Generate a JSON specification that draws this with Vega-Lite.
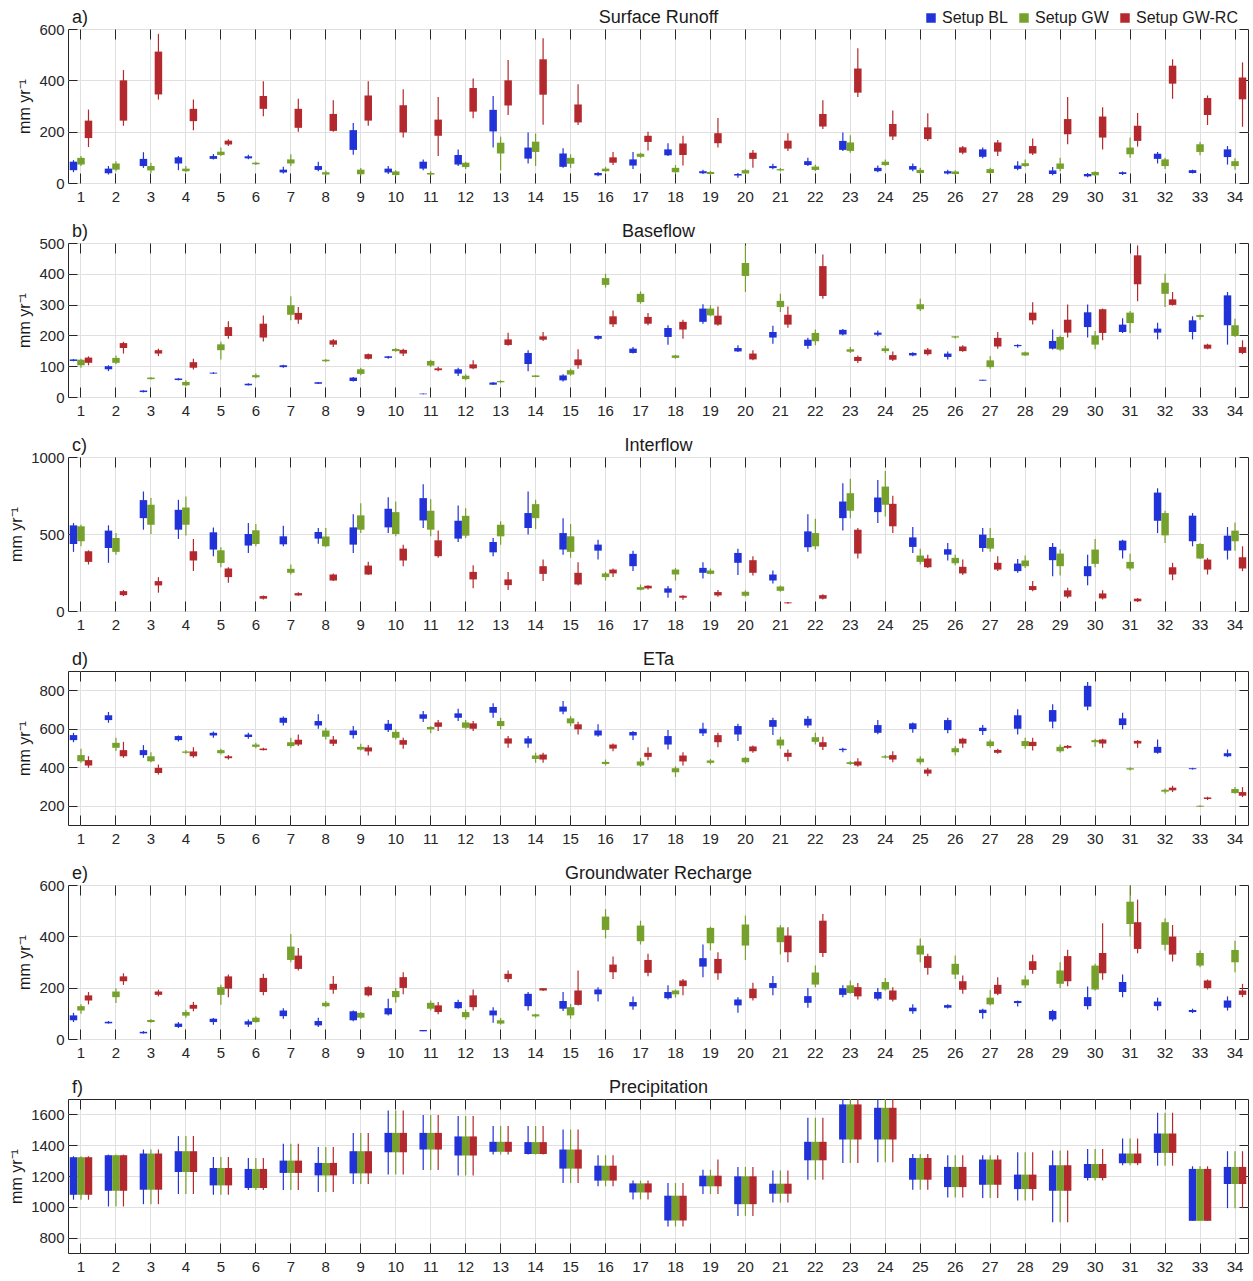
{
"$schema":"https://vega.github.io/schema/vega-lite/v6.json",
"padding":{"left":8,"top":8,"right":5,"bottom":3},
"bounds":"flush",
"spacing":60,
"config":{"font":"Liberation Sans","view":{"stroke":"#262626","strokeWidth":1},
"axis":{"labelColor":"#262626","tickColor":"#262626","gridColor":"#e0e0e0","domain":false,"labelFontSize":15,"titleColor":"#1a1a1a","titleFontWeight":"normal","titleFont":"Liberation Sans","labelFont":"Liberation Sans","format":"d"},
"title":{"fontWeight":"normal","fontSize":18,"color":"#1a1a1a"},
"legend":{"labelFont":"Liberation Sans"}},
"resolve":{"legend":{"color":"independent"}},
"data":{"values":[
{"p":"a","c":1,"s":"BL","lo":42,"q1":50,"q3":83,"hi":89},{"p":"a","c":1,"s":"GW","lo":66,"q1":72,"q3":98,"hi":105},{"p":"a","c":1,"s":"GW-RC","lo":140,"q1":175,"q3":243,"hi":286},
{"p":"a","c":2,"s":"BL","lo":33,"q1":38,"q3":56,"hi":66},{"p":"a","c":2,"s":"GW","lo":46,"q1":52,"q3":76,"hi":85},{"p":"a","c":2,"s":"GW-RC","lo":223,"q1":243,"q3":400,"hi":440},
{"p":"a","c":3,"s":"BL","lo":59,"q1":66,"q3":94,"hi":120},{"p":"a","c":3,"s":"GW","lo":39,"q1":49,"q3":66,"hi":79},{"p":"a","c":3,"s":"GW-RC","lo":325,"q1":345,"q3":512,"hi":581},
{"p":"a","c":4,"s":"BL","lo":50,"q1":76,"q3":100,"hi":105},{"p":"a","c":4,"s":"GW","lo":42,"q1":46,"q3":56,"hi":66},{"p":"a","c":4,"s":"GW-RC","lo":206,"q1":241,"q3":289,"hi":325},
{"p":"a","c":5,"s":"BL","lo":92,"q1":94,"q3":105,"hi":113},{"p":"a","c":5,"s":"GW","lo":105,"q1":109,"q3":122,"hi":138},{"p":"a","c":5,"s":"GW-RC","lo":144,"q1":150,"q3":165,"hi":170},
{"p":"a","c":6,"s":"BL","lo":93,"q1":96,"q3":104,"hi":110},{"p":"a","c":6,"s":"GW","lo":70,"q1":73,"q3":79,"hi":83},{"p":"a","c":6,"s":"GW-RC","lo":260,"q1":289,"q3":339,"hi":396},
{"p":"a","c":7,"s":"BL","lo":37,"q1":41,"q3":52,"hi":63},{"p":"a","c":7,"s":"GW","lo":66,"q1":76,"q3":92,"hi":112},{"p":"a","c":7,"s":"GW-RC","lo":200,"q1":215,"q3":289,"hi":328},
{"p":"a","c":8,"s":"BL","lo":46,"q1":51,"q3":66,"hi":83},{"p":"a","c":8,"s":"GW","lo":29,"q1":33,"q3":42,"hi":49},{"p":"a","c":8,"s":"GW-RC","lo":200,"q1":203,"q3":269,"hi":322},
{"p":"a","c":9,"s":"BL","lo":110,"q1":129,"q3":206,"hi":234},{"p":"a","c":9,"s":"GW","lo":29,"q1":34,"q3":52,"hi":58},{"p":"a","c":9,"s":"GW-RC","lo":223,"q1":243,"q3":341,"hi":396},
{"p":"a","c":10,"s":"BL","lo":35,"q1":41,"q3":56,"hi":66},{"p":"a","c":10,"s":"GW","lo":26,"q1":31,"q3":45,"hi":50},{"p":"a","c":10,"s":"GW-RC","lo":177,"q1":197,"q3":303,"hi":365},
{"p":"a","c":11,"s":"BL","lo":50,"q1":56,"q3":83,"hi":92},{"p":"a","c":11,"s":"GW","lo":29,"q1":33,"q3":39,"hi":46},{"p":"a","c":11,"s":"GW-RC","lo":105,"q1":184,"q3":247,"hi":335},
{"p":"a","c":12,"s":"BL","lo":66,"q1":72,"q3":109,"hi":131},{"p":"a","c":12,"s":"GW","lo":55,"q1":62,"q3":79,"hi":83},{"p":"a","c":12,"s":"GW-RC","lo":252,"q1":278,"q3":370,"hi":407},
{"p":"a","c":13,"s":"BL","lo":138,"q1":201,"q3":285,"hi":339},{"p":"a","c":13,"s":"GW","lo":50,"q1":115,"q3":157,"hi":180},{"p":"a","c":13,"s":"GW-RC","lo":265,"q1":302,"q3":400,"hi":479},
{"p":"a","c":14,"s":"BL","lo":76,"q1":95,"q3":138,"hi":197},{"p":"a","c":14,"s":"GW","lo":66,"q1":121,"q3":161,"hi":193},{"p":"a","c":14,"s":"GW-RC","lo":227,"q1":344,"q3":482,"hi":564},
{"p":"a","c":15,"s":"BL","lo":59,"q1":63,"q3":115,"hi":135},{"p":"a","c":15,"s":"GW","lo":59,"q1":75,"q3":98,"hi":112},{"p":"a","c":15,"s":"GW-RC","lo":226,"q1":236,"q3":306,"hi":385},
{"p":"a","c":16,"s":"BL","lo":26,"q1":30,"q3":39,"hi":43},{"p":"a","c":16,"s":"GW","lo":42,"q1":46,"q3":56,"hi":63},{"p":"a","c":16,"s":"GW-RC","lo":70,"q1":79,"q3":100,"hi":121},
{"p":"a","c":17,"s":"BL","lo":55,"q1":68,"q3":92,"hi":121},{"p":"a","c":17,"s":"GW","lo":98,"q1":102,"q3":114,"hi":118},{"p":"a","c":17,"s":"GW-RC","lo":127,"q1":160,"q3":184,"hi":200},
{"p":"a","c":18,"s":"BL","lo":105,"q1":108,"q3":131,"hi":155},{"p":"a","c":18,"s":"GW","lo":37,"q1":42,"q3":59,"hi":70},{"p":"a","c":18,"s":"GW-RC","lo":68,"q1":109,"q3":154,"hi":184},
{"p":"a","c":19,"s":"BL","lo":35,"q1":38,"q3":46,"hi":52},{"p":"a","c":19,"s":"GW","lo":30,"q1":35,"q3":43,"hi":47},{"p":"a","c":19,"s":"GW-RC","lo":138,"q1":155,"q3":194,"hi":253},
{"p":"a","c":20,"s":"BL","lo":20,"q1":29,"q3":35,"hi":39},{"p":"a","c":20,"s":"GW","lo":33,"q1":37,"q3":50,"hi":55},{"p":"a","c":20,"s":"GW-RC","lo":59,"q1":94,"q3":118,"hi":129},
{"p":"a","c":21,"s":"BL","lo":54,"q1":58,"q3":66,"hi":75},{"p":"a","c":21,"s":"GW","lo":46,"q1":49,"q3":54,"hi":58},{"p":"a","c":21,"s":"GW-RC","lo":125,"q1":134,"q3":165,"hi":194},
{"p":"a","c":22,"s":"BL","lo":66,"q1":70,"q3":85,"hi":98},{"p":"a","c":22,"s":"GW","lo":47,"q1":51,"q3":64,"hi":71},{"p":"a","c":22,"s":"GW-RC","lo":210,"q1":220,"q3":269,"hi":322},
{"p":"a","c":23,"s":"BL","lo":125,"q1":129,"q3":164,"hi":197},{"p":"a","c":23,"s":"GW","lo":118,"q1":125,"q3":158,"hi":186},{"p":"a","c":23,"s":"GW-RC","lo":335,"q1":352,"q3":446,"hi":525},
{"p":"a","c":24,"s":"BL","lo":42,"q1":46,"q3":59,"hi":68},{"p":"a","c":24,"s":"GW","lo":66,"q1":70,"q3":83,"hi":92},{"p":"a","c":24,"s":"GW-RC","lo":168,"q1":181,"q3":230,"hi":282},
{"p":"a","c":25,"s":"BL","lo":46,"q1":52,"q3":66,"hi":76},{"p":"a","c":25,"s":"GW","lo":33,"q1":39,"q3":51,"hi":59},{"p":"a","c":25,"s":"GW-RC","lo":164,"q1":171,"q3":217,"hi":272},
{"p":"a","c":26,"s":"BL","lo":33,"q1":37,"q3":46,"hi":52},{"p":"a","c":26,"s":"GW","lo":30,"q1":35,"q3":45,"hi":50},{"p":"a","c":26,"s":"GW-RC","lo":112,"q1":118,"q3":139,"hi":144},
{"p":"a","c":27,"s":"BL","lo":96,"q1":102,"q3":131,"hi":138},{"p":"a","c":27,"s":"GW","lo":35,"q1":39,"q3":54,"hi":59},{"p":"a","c":27,"s":"GW-RC","lo":105,"q1":122,"q3":158,"hi":168},
{"p":"a","c":28,"s":"BL","lo":50,"q1":55,"q3":68,"hi":85},{"p":"a","c":28,"s":"GW","lo":62,"q1":66,"q3":77,"hi":92},{"p":"a","c":28,"s":"GW-RC","lo":109,"q1":115,"q3":144,"hi":173},
{"p":"a","c":29,"s":"BL","lo":30,"q1":35,"q3":49,"hi":62},{"p":"a","c":29,"s":"GW","lo":46,"q1":55,"q3":76,"hi":98},{"p":"a","c":29,"s":"GW-RC","lo":151,"q1":190,"q3":249,"hi":335},
{"p":"a","c":30,"s":"BL","lo":22,"q1":26,"q3":35,"hi":39},{"p":"a","c":30,"s":"GW","lo":26,"q1":30,"q3":43,"hi":46},{"p":"a","c":30,"s":"GW-RC","lo":131,"q1":177,"q3":259,"hi":295},
{"p":"a","c":31,"s":"BL","lo":31,"q1":35,"q3":42,"hi":45},{"p":"a","c":31,"s":"GW","lo":98,"q1":112,"q3":138,"hi":177},{"p":"a","c":31,"s":"GW-RC","lo":142,"q1":164,"q3":223,"hi":273},
{"p":"a","c":32,"s":"BL","lo":76,"q1":94,"q3":114,"hi":121},{"p":"a","c":32,"s":"GW","lo":55,"q1":66,"q3":92,"hi":98},{"p":"a","c":32,"s":"GW-RC","lo":328,"q1":387,"q3":457,"hi":482},
{"p":"a","c":33,"s":"BL","lo":37,"q1":39,"q3":50,"hi":52},{"p":"a","c":33,"s":"GW","lo":108,"q1":121,"q3":151,"hi":160},{"p":"a","c":33,"s":"GW-RC","lo":226,"q1":265,"q3":331,"hi":341},
{"p":"a","c":34,"s":"BL","lo":72,"q1":101,"q3":131,"hi":144},{"p":"a","c":34,"s":"GW","lo":52,"q1":66,"q3":85,"hi":96},{"p":"a","c":34,"s":"GW-RC","lo":219,"q1":326,"q3":411,"hi":470},
{"p":"b","c":1,"s":"BL","lo":116,"q1":117,"q3":122,"hi":123},{"p":"b","c":1,"s":"GW","lo":95,"q1":103,"q3":121,"hi":124},{"p":"b","c":1,"s":"GW-RC","lo":103,"q1":111,"q3":128,"hi":132},
{"p":"b","c":2,"s":"BL","lo":84,"q1":90,"q3":100,"hi":103},{"p":"b","c":2,"s":"GW","lo":106,"q1":111,"q3":127,"hi":135},{"p":"b","c":2,"s":"GW-RC","lo":141,"q1":159,"q3":175,"hi":179},
{"p":"b","c":3,"s":"BL","lo":15,"q1":16,"q3":21,"hi":22},{"p":"b","c":3,"s":"GW","lo":57,"q1":58,"q3":63,"hi":65},{"p":"b","c":3,"s":"GW-RC","lo":133,"q1":141,"q3":152,"hi":157},
{"p":"b","c":4,"s":"BL","lo":54,"q1":55,"q3":60,"hi":61},{"p":"b","c":4,"s":"GW","lo":35,"q1":38,"q3":49,"hi":54},{"p":"b","c":4,"s":"GW-RC","lo":89,"q1":95,"q3":113,"hi":124},
{"p":"b","c":5,"s":"BL","lo":75,"q1":76,"q3":79,"hi":80},{"p":"b","c":5,"s":"GW","lo":122,"q1":152,"q3":171,"hi":179},{"p":"b","c":5,"s":"GW-RC","lo":189,"q1":198,"q3":227,"hi":246},
{"p":"b","c":6,"s":"BL","lo":37,"q1":38,"q3":43,"hi":45},{"p":"b","c":6,"s":"GW","lo":61,"q1":64,"q3":71,"hi":76},{"p":"b","c":6,"s":"GW-RC","lo":180,"q1":193,"q3":238,"hi":265},
{"p":"b","c":7,"s":"BL","lo":95,"q1":97,"q3":103,"hi":105},{"p":"b","c":7,"s":"GW","lo":249,"q1":267,"q3":298,"hi":327},{"p":"b","c":7,"s":"GW-RC","lo":238,"q1":251,"q3":273,"hi":292},
{"p":"b","c":8,"s":"BL","lo":42,"q1":43,"q3":48,"hi":49},{"p":"b","c":8,"s":"GW","lo":114,"q1":116,"q3":121,"hi":123},{"p":"b","c":8,"s":"GW-RC","lo":162,"q1":170,"q3":184,"hi":188},
{"p":"b","c":9,"s":"BL","lo":50,"q1":52,"q3":63,"hi":65},{"p":"b","c":9,"s":"GW","lo":71,"q1":75,"q3":90,"hi":95},{"p":"b","c":9,"s":"GW-RC","lo":122,"q1":124,"q3":139,"hi":141},
{"p":"b","c":10,"s":"BL","lo":124,"q1":127,"q3":132,"hi":133},{"p":"b","c":10,"s":"GW","lo":147,"q1":149,"q3":156,"hi":159},{"p":"b","c":10,"s":"GW-RC","lo":133,"q1":141,"q3":153,"hi":157},
{"p":"b","c":11,"s":"BL","lo":9,"q1":9,"q3":11,"hi":11},{"p":"b","c":11,"s":"GW","lo":97,"q1":102,"q3":117,"hi":121},{"p":"b","c":11,"s":"GW-RC","lo":84,"q1":87,"q3":93,"hi":98},
{"p":"b","c":12,"s":"BL","lo":68,"q1":76,"q3":90,"hi":95},{"p":"b","c":12,"s":"GW","lo":54,"q1":58,"q3":69,"hi":74},{"p":"b","c":12,"s":"GW-RC","lo":90,"q1":93,"q3":106,"hi":119},
{"p":"b","c":13,"s":"BL","lo":39,"q1":40,"q3":47,"hi":49},{"p":"b","c":13,"s":"GW","lo":45,"q1":48,"q3":52,"hi":54},{"p":"b","c":13,"s":"GW-RC","lo":166,"q1":169,"q3":187,"hi":209},
{"p":"b","c":14,"s":"BL","lo":84,"q1":107,"q3":143,"hi":152},{"p":"b","c":14,"s":"GW","lo":64,"q1":65,"q3":70,"hi":71},{"p":"b","c":14,"s":"GW-RC","lo":182,"q1":186,"q3":197,"hi":211},
{"p":"b","c":15,"s":"BL","lo":50,"q1":54,"q3":70,"hi":74},{"p":"b","c":15,"s":"GW","lo":69,"q1":73,"q3":87,"hi":92},{"p":"b","c":15,"s":"GW-RC","lo":92,"q1":103,"q3":122,"hi":155},
{"p":"b","c":16,"s":"BL","lo":186,"q1":189,"q3":198,"hi":200},{"p":"b","c":16,"s":"GW","lo":355,"q1":364,"q3":386,"hi":400},{"p":"b","c":16,"s":"GW-RC","lo":227,"q1":236,"q3":262,"hi":281},
{"p":"b","c":17,"s":"BL","lo":141,"q1":143,"q3":157,"hi":162},{"p":"b","c":17,"s":"GW","lo":303,"q1":308,"q3":335,"hi":343},{"p":"b","c":17,"s":"GW-RC","lo":233,"q1":238,"q3":260,"hi":273},
{"p":"b","c":18,"s":"BL","lo":170,"q1":195,"q3":224,"hi":233},{"p":"b","c":18,"s":"GW","lo":124,"q1":127,"q3":135,"hi":137},{"p":"b","c":18,"s":"GW-RC","lo":189,"q1":219,"q3":244,"hi":251},
{"p":"b","c":19,"s":"BL","lo":238,"q1":244,"q3":287,"hi":301},{"p":"b","c":19,"s":"GW","lo":262,"q1":265,"q3":287,"hi":298},{"p":"b","c":19,"s":"GW-RC","lo":231,"q1":235,"q3":264,"hi":294},
{"p":"b","c":20,"s":"BL","lo":146,"q1":148,"q3":159,"hi":168},{"p":"b","c":20,"s":"GW","lo":341,"q1":393,"q3":435,"hi":492},{"p":"b","c":20,"s":"GW-RC","lo":119,"q1":122,"q3":141,"hi":152},
{"p":"b","c":21,"s":"BL","lo":173,"q1":193,"q3":211,"hi":231},{"p":"b","c":21,"s":"GW","lo":276,"q1":292,"q3":312,"hi":335},{"p":"b","c":21,"s":"GW-RC","lo":225,"q1":235,"q3":267,"hi":294},
{"p":"b","c":22,"s":"BL","lo":157,"q1":166,"q3":186,"hi":192},{"p":"b","c":22,"s":"GW","lo":168,"q1":181,"q3":208,"hi":219},{"p":"b","c":22,"s":"GW-RC","lo":319,"q1":328,"q3":425,"hi":463},
{"p":"b","c":23,"s":"BL","lo":200,"q1":203,"q3":218,"hi":221},{"p":"b","c":23,"s":"GW","lo":143,"q1":147,"q3":155,"hi":162},{"p":"b","c":23,"s":"GW-RC","lo":110,"q1":117,"q3":130,"hi":135},
{"p":"b","c":24,"s":"BL","lo":197,"q1":202,"q3":209,"hi":216},{"p":"b","c":24,"s":"GW","lo":143,"q1":149,"q3":158,"hi":166},{"p":"b","c":24,"s":"GW-RC","lo":117,"q1":121,"q3":136,"hi":148},
{"p":"b","c":25,"s":"BL","lo":132,"q1":135,"q3":143,"hi":145},{"p":"b","c":25,"s":"GW","lo":279,"q1":285,"q3":301,"hi":319},{"p":"b","c":25,"s":"GW-RC","lo":135,"q1":139,"q3":154,"hi":159},
{"p":"b","c":26,"s":"BL","lo":122,"q1":130,"q3":141,"hi":148},{"p":"b","c":26,"s":"GW","lo":190,"q1":193,"q3":197,"hi":198},{"p":"b","c":26,"s":"GW-RC","lo":147,"q1":149,"q3":164,"hi":168},
{"p":"b","c":27,"s":"BL","lo":53,"q1":53,"q3":56,"hi":56},{"p":"b","c":27,"s":"GW","lo":92,"q1":97,"q3":119,"hi":133},{"p":"b","c":27,"s":"GW-RC","lo":157,"q1":164,"q3":192,"hi":211},
{"p":"b","c":28,"s":"BL","lo":160,"q1":165,"q3":169,"hi":171},{"p":"b","c":28,"s":"GW","lo":133,"q1":135,"q3":145,"hi":148},{"p":"b","c":28,"s":"GW-RC","lo":235,"q1":249,"q3":274,"hi":308},
{"p":"b","c":29,"s":"BL","lo":154,"q1":157,"q3":182,"hi":219},{"p":"b","c":29,"s":"GW","lo":149,"q1":154,"q3":195,"hi":200},{"p":"b","c":29,"s":"GW-RC","lo":193,"q1":209,"q3":251,"hi":300},
{"p":"b","c":30,"s":"BL","lo":193,"q1":227,"q3":275,"hi":300},{"p":"b","c":30,"s":"GW","lo":155,"q1":170,"q3":200,"hi":214},{"p":"b","c":30,"s":"GW-RC","lo":184,"q1":208,"q3":285,"hi":287},
{"p":"b","c":31,"s":"BL","lo":208,"q1":211,"q3":235,"hi":256},{"p":"b","c":31,"s":"GW","lo":208,"q1":240,"q3":274,"hi":279},{"p":"b","c":31,"s":"GW-RC","lo":311,"q1":366,"q3":460,"hi":492},
{"p":"b","c":32,"s":"BL","lo":187,"q1":209,"q3":222,"hi":241},{"p":"b","c":32,"s":"GW","lo":292,"q1":335,"q3":371,"hi":400},{"p":"b","c":32,"s":"GW-RC","lo":297,"q1":299,"q3":317,"hi":341},
{"p":"b","c":33,"s":"BL","lo":187,"q1":211,"q3":249,"hi":262},{"p":"b","c":33,"s":"GW","lo":251,"q1":260,"q3":266,"hi":268},{"p":"b","c":33,"s":"GW-RC","lo":155,"q1":157,"q3":170,"hi":173},
{"p":"b","c":34,"s":"BL","lo":170,"q1":233,"q3":330,"hi":341},{"p":"b","c":34,"s":"GW","lo":195,"q1":198,"q3":233,"hi":254},{"p":"b","c":34,"s":"GW-RC","lo":139,"q1":143,"q3":162,"hi":184},
{"p":"c","c":1,"s":"BL","lo":384,"q1":435,"q3":556,"hi":571},{"p":"c","c":1,"s":"GW","lo":420,"q1":453,"q3":550,"hi":560},{"p":"c","c":1,"s":"GW-RC","lo":302,"q1":319,"q3":388,"hi":394},
{"p":"c","c":2,"s":"BL","lo":313,"q1":409,"q3":522,"hi":556},{"p":"c","c":2,"s":"GW","lo":366,"q1":384,"q3":474,"hi":506},{"p":"c","c":2,"s":"GW-RC","lo":97,"q1":103,"q3":129,"hi":136},
{"p":"c","c":3,"s":"BL","lo":528,"q1":603,"q3":720,"hi":776},{"p":"c","c":3,"s":"GW","lo":500,"q1":560,"q3":690,"hi":733},{"p":"c","c":3,"s":"GW-RC","lo":119,"q1":166,"q3":194,"hi":220},
{"p":"c","c":4,"s":"BL","lo":468,"q1":528,"q3":657,"hi":722},{"p":"c","c":4,"s":"GW","lo":491,"q1":560,"q3":672,"hi":743},{"p":"c","c":4,"s":"GW-RC","lo":259,"q1":328,"q3":388,"hi":468},
{"p":"c","c":5,"s":"BL","lo":356,"q1":399,"q3":511,"hi":543},{"p":"c","c":5,"s":"GW","lo":284,"q1":312,"q3":394,"hi":414},{"p":"c","c":5,"s":"GW-RC","lo":183,"q1":220,"q3":276,"hi":284},
{"p":"c","c":6,"s":"BL","lo":377,"q1":425,"q3":500,"hi":571},{"p":"c","c":6,"s":"GW","lo":420,"q1":435,"q3":524,"hi":565},{"p":"c","c":6,"s":"GW-RC","lo":75,"q1":80,"q3":97,"hi":101},
{"p":"c","c":7,"s":"BL","lo":420,"q1":433,"q3":485,"hi":554},{"p":"c","c":7,"s":"GW","lo":237,"q1":248,"q3":274,"hi":302},{"p":"c","c":7,"s":"GW-RC","lo":99,"q1":101,"q3":116,"hi":121},
{"p":"c","c":8,"s":"BL","lo":437,"q1":470,"q3":513,"hi":539},{"p":"c","c":8,"s":"GW","lo":414,"q1":420,"q3":483,"hi":539},{"p":"c","c":8,"s":"GW-RC","lo":194,"q1":198,"q3":237,"hi":244},
{"p":"c","c":9,"s":"BL","lo":377,"q1":431,"q3":543,"hi":629},{"p":"c","c":9,"s":"GW","lo":506,"q1":528,"q3":621,"hi":700},{"p":"c","c":9,"s":"GW-RC","lo":233,"q1":237,"q3":295,"hi":319},
{"p":"c","c":10,"s":"BL","lo":506,"q1":543,"q3":664,"hi":739},{"p":"c","c":10,"s":"GW","lo":485,"q1":500,"q3":642,"hi":711},{"p":"c","c":10,"s":"GW-RC","lo":291,"q1":328,"q3":405,"hi":431},
{"p":"c","c":11,"s":"BL","lo":539,"q1":588,"q3":733,"hi":823},{"p":"c","c":11,"s":"GW","lo":485,"q1":528,"q3":651,"hi":726},{"p":"c","c":11,"s":"GW-RC","lo":345,"q1":356,"q3":459,"hi":522},
{"p":"c","c":12,"s":"BL","lo":448,"q1":470,"q3":586,"hi":685},{"p":"c","c":12,"s":"GW","lo":474,"q1":489,"q3":618,"hi":668},{"p":"c","c":12,"s":"GW-RC","lo":147,"q1":205,"q3":254,"hi":297},
{"p":"c","c":13,"s":"BL","lo":356,"q1":381,"q3":448,"hi":474},{"p":"c","c":13,"s":"GW","lo":431,"q1":485,"q3":560,"hi":582},{"p":"c","c":13,"s":"GW-RC","lo":136,"q1":168,"q3":205,"hi":254},
{"p":"c","c":14,"s":"BL","lo":496,"q1":539,"q3":636,"hi":776},{"p":"c","c":14,"s":"GW","lo":532,"q1":603,"q3":694,"hi":722},{"p":"c","c":14,"s":"GW-RC","lo":194,"q1":241,"q3":291,"hi":334},
{"p":"c","c":15,"s":"BL","lo":366,"q1":399,"q3":506,"hi":603},{"p":"c","c":15,"s":"GW","lo":345,"q1":384,"q3":485,"hi":565},{"p":"c","c":15,"s":"GW-RC","lo":166,"q1":172,"q3":248,"hi":317},
{"p":"c","c":16,"s":"BL","lo":334,"q1":392,"q3":431,"hi":463},{"p":"c","c":16,"s":"GW","lo":198,"q1":220,"q3":244,"hi":254},{"p":"c","c":16,"s":"GW-RC","lo":220,"q1":244,"q3":269,"hi":276},
{"p":"c","c":17,"s":"BL","lo":259,"q1":291,"q3":371,"hi":392},{"p":"c","c":17,"s":"GW","lo":134,"q1":138,"q3":155,"hi":172},{"p":"c","c":17,"s":"GW-RC","lo":140,"q1":147,"q3":164,"hi":168},
{"p":"c","c":18,"s":"BL","lo":86,"q1":119,"q3":147,"hi":162},{"p":"c","c":18,"s":"GW","lo":198,"q1":237,"q3":269,"hi":280},{"p":"c","c":18,"s":"GW-RC","lo":73,"q1":86,"q3":99,"hi":103},
{"p":"c","c":19,"s":"BL","lo":211,"q1":248,"q3":280,"hi":317},{"p":"c","c":19,"s":"GW","lo":237,"q1":241,"q3":263,"hi":276},{"p":"c","c":19,"s":"GW-RC","lo":93,"q1":101,"q3":123,"hi":136},
{"p":"c","c":20,"s":"BL","lo":233,"q1":313,"q3":377,"hi":405},{"p":"c","c":20,"s":"GW","lo":93,"q1":99,"q3":125,"hi":134},{"p":"c","c":20,"s":"GW-RC","lo":231,"q1":248,"q3":330,"hi":356},
{"p":"c","c":21,"s":"BL","lo":179,"q1":198,"q3":237,"hi":263},{"p":"c","c":21,"s":"GW","lo":125,"q1":131,"q3":159,"hi":166},{"p":"c","c":21,"s":"GW-RC","lo":47,"q1":50,"q3":56,"hi":58},
{"p":"c","c":22,"s":"BL","lo":384,"q1":414,"q3":517,"hi":629},{"p":"c","c":22,"s":"GW","lo":399,"q1":420,"q3":506,"hi":599},{"p":"c","c":22,"s":"GW-RC","lo":75,"q1":80,"q3":103,"hi":108},
{"p":"c","c":23,"s":"BL","lo":522,"q1":603,"q3":711,"hi":830},{"p":"c","c":23,"s":"GW","lo":603,"q1":651,"q3":765,"hi":858},{"p":"c","c":23,"s":"GW-RC","lo":341,"q1":373,"q3":528,"hi":539},
{"p":"c","c":24,"s":"BL","lo":571,"q1":642,"q3":737,"hi":851},{"p":"c","c":24,"s":"GW","lo":614,"q1":690,"q3":808,"hi":909},{"p":"c","c":24,"s":"GW-RC","lo":506,"q1":550,"q3":696,"hi":748},
{"p":"c","c":25,"s":"BL","lo":377,"q1":416,"q3":478,"hi":545},{"p":"c","c":25,"s":"GW","lo":302,"q1":319,"q3":360,"hi":405},{"p":"c","c":25,"s":"GW-RC","lo":280,"q1":284,"q3":341,"hi":366},
{"p":"c","c":26,"s":"BL","lo":328,"q1":366,"q3":401,"hi":442},{"p":"c","c":26,"s":"GW","lo":297,"q1":310,"q3":345,"hi":366},{"p":"c","c":26,"s":"GW-RC","lo":233,"q1":244,"q3":287,"hi":334},
{"p":"c","c":27,"s":"BL","lo":384,"q1":409,"q3":496,"hi":539},{"p":"c","c":27,"s":"GW","lo":384,"q1":405,"q3":474,"hi":539},{"p":"c","c":27,"s":"GW-RC","lo":259,"q1":269,"q3":313,"hi":356},
{"p":"c","c":28,"s":"BL","lo":248,"q1":259,"q3":308,"hi":338},{"p":"c","c":28,"s":"GW","lo":280,"q1":291,"q3":328,"hi":360},{"p":"c","c":28,"s":"GW-RC","lo":129,"q1":136,"q3":162,"hi":194},
{"p":"c","c":29,"s":"BL","lo":226,"q1":330,"q3":416,"hi":442},{"p":"c","c":29,"s":"GW","lo":231,"q1":291,"q3":373,"hi":399},{"p":"c","c":29,"s":"GW-RC","lo":82,"q1":93,"q3":134,"hi":151},
{"p":"c","c":30,"s":"BL","lo":168,"q1":226,"q3":291,"hi":366},{"p":"c","c":30,"s":"GW","lo":284,"q1":306,"q3":399,"hi":468},{"p":"c","c":30,"s":"GW-RC","lo":75,"q1":82,"q3":114,"hi":134},
{"p":"c","c":31,"s":"BL","lo":341,"q1":394,"q3":457,"hi":463},{"p":"c","c":31,"s":"GW","lo":263,"q1":276,"q3":319,"hi":371},{"p":"c","c":31,"s":"GW-RC","lo":58,"q1":63,"q3":80,"hi":84},
{"p":"c","c":32,"s":"BL","lo":506,"q1":586,"q3":769,"hi":797},{"p":"c","c":32,"s":"GW","lo":442,"q1":491,"q3":636,"hi":651},{"p":"c","c":32,"s":"GW-RC","lo":200,"q1":237,"q3":284,"hi":313},
{"p":"c","c":33,"s":"BL","lo":420,"q1":453,"q3":619,"hi":636},{"p":"c","c":33,"s":"GW","lo":338,"q1":341,"q3":435,"hi":442},{"p":"c","c":33,"s":"GW-RC","lo":237,"q1":269,"q3":334,"hi":345},
{"p":"c","c":34,"s":"BL","lo":334,"q1":392,"q3":489,"hi":545},{"p":"c","c":34,"s":"GW","lo":392,"q1":453,"q3":522,"hi":575},{"p":"c","c":34,"s":"GW-RC","lo":259,"q1":276,"q3":349,"hi":420},
{"p":"d","c":1,"s":"BL","lo":530,"q1":541,"q3":567,"hi":579},{"p":"d","c":1,"s":"GW","lo":423,"q1":431,"q3":463,"hi":496},{"p":"d","c":1,"s":"GW-RC","lo":397,"q1":409,"q3":437,"hi":457},
{"p":"d","c":2,"s":"BL","lo":631,"q1":645,"q3":670,"hi":687},{"p":"d","c":2,"s":"GW","lo":484,"q1":501,"q3":527,"hi":553},{"p":"d","c":2,"s":"GW-RC","lo":449,"q1":457,"q3":489,"hi":532},
{"p":"d","c":3,"s":"BL","lo":449,"q1":463,"q3":489,"hi":515},{"p":"d","c":3,"s":"GW","lo":426,"q1":431,"q3":457,"hi":478},{"p":"d","c":3,"s":"GW-RC","lo":362,"q1":370,"q3":397,"hi":414},
{"p":"d","c":4,"s":"BL","lo":534,"q1":541,"q3":562,"hi":565},{"p":"d","c":4,"s":"GW","lo":470,"q1":475,"q3":482,"hi":489},{"p":"d","c":4,"s":"GW-RC","lo":449,"q1":457,"q3":482,"hi":504},
{"p":"d","c":5,"s":"BL","lo":553,"q1":565,"q3":579,"hi":586},{"p":"d","c":5,"s":"GW","lo":466,"q1":473,"q3":489,"hi":496},{"p":"d","c":5,"s":"GW-RC","lo":440,"q1":447,"q3":457,"hi":463},
{"p":"d","c":6,"s":"BL","lo":548,"q1":557,"q3":570,"hi":579},{"p":"d","c":6,"s":"GW","lo":499,"q1":506,"q3":518,"hi":527},{"p":"d","c":6,"s":"GW-RC","lo":487,"q1":489,"q3":497,"hi":501},
{"p":"d","c":7,"s":"BL","lo":617,"q1":631,"q3":657,"hi":663},{"p":"d","c":7,"s":"GW","lo":501,"q1":510,"q3":530,"hi":553},{"p":"d","c":7,"s":"GW-RC","lo":510,"q1":518,"q3":543,"hi":570},
{"p":"d","c":8,"s":"BL","lo":600,"q1":617,"q3":640,"hi":675},{"p":"d","c":8,"s":"GW","lo":544,"q1":558,"q3":591,"hi":605},{"p":"d","c":8,"s":"GW-RC","lo":510,"q1":522,"q3":544,"hi":562},
{"p":"d","c":9,"s":"BL","lo":550,"q1":567,"q3":591,"hi":614},{"p":"d","c":9,"s":"GW","lo":487,"q1":492,"q3":506,"hi":522},{"p":"d","c":9,"s":"GW-RC","lo":461,"q1":482,"q3":503,"hi":515},
{"p":"d","c":10,"s":"BL","lo":583,"q1":593,"q3":626,"hi":645},{"p":"d","c":10,"s":"GW","lo":544,"q1":553,"q3":584,"hi":597},{"p":"d","c":10,"s":"GW-RC","lo":496,"q1":517,"q3":541,"hi":553},
{"p":"d","c":11,"s":"BL","lo":635,"q1":652,"q3":675,"hi":692},{"p":"d","c":11,"s":"GW","lo":576,"q1":597,"q3":609,"hi":614},{"p":"d","c":11,"s":"GW-RC","lo":588,"q1":610,"q3":633,"hi":645},
{"p":"d","c":12,"s":"BL","lo":640,"q1":657,"q3":680,"hi":704},{"p":"d","c":12,"s":"GW","lo":597,"q1":605,"q3":633,"hi":645},{"p":"d","c":12,"s":"GW-RC","lo":588,"q1":600,"q3":628,"hi":640},
{"p":"d","c":13,"s":"BL","lo":657,"q1":683,"q3":713,"hi":732},{"p":"d","c":13,"s":"GW","lo":597,"q1":614,"q3":640,"hi":657},{"p":"d","c":13,"s":"GW-RC","lo":501,"q1":523,"q3":550,"hi":562},
{"p":"d","c":14,"s":"BL","lo":501,"q1":523,"q3":550,"hi":562},{"p":"d","c":14,"s":"GW","lo":423,"q1":443,"q3":461,"hi":475},{"p":"d","c":14,"s":"GW-RC","lo":423,"q1":440,"q3":466,"hi":475},
{"p":"d","c":15,"s":"BL","lo":675,"q1":689,"q3":715,"hi":744},{"p":"d","c":15,"s":"GW","lo":614,"q1":628,"q3":654,"hi":666},{"p":"d","c":15,"s":"GW-RC","lo":570,"q1":597,"q3":623,"hi":637},
{"p":"d","c":16,"s":"BL","lo":558,"q1":565,"q3":591,"hi":623},{"p":"d","c":16,"s":"GW","lo":409,"q1":417,"q3":428,"hi":440},{"p":"d","c":16,"s":"GW-RC","lo":483,"q1":497,"q3":518,"hi":523},
{"p":"d","c":17,"s":"BL","lo":541,"q1":565,"q3":583,"hi":588},{"p":"d","c":17,"s":"GW","lo":402,"q1":409,"q3":430,"hi":449},{"p":"d","c":17,"s":"GW-RC","lo":437,"q1":454,"q3":475,"hi":504},
{"p":"d","c":18,"s":"BL","lo":492,"q1":518,"q3":562,"hi":593},{"p":"d","c":18,"s":"GW","lo":350,"q1":374,"q3":395,"hi":405},{"p":"d","c":18,"s":"GW-RC","lo":409,"q1":430,"q3":461,"hi":478},
{"p":"d","c":19,"s":"BL","lo":562,"q1":576,"q3":600,"hi":631},{"p":"d","c":19,"s":"GW","lo":414,"q1":423,"q3":435,"hi":443},{"p":"d","c":19,"s":"GW-RC","lo":504,"q1":530,"q3":567,"hi":579},
{"p":"d","c":20,"s":"BL","lo":536,"q1":570,"q3":614,"hi":626},{"p":"d","c":20,"s":"GW","lo":419,"q1":426,"q3":449,"hi":454},{"p":"d","c":20,"s":"GW-RC","lo":475,"q1":483,"q3":508,"hi":513},
{"p":"d","c":21,"s":"BL","lo":567,"q1":610,"q3":645,"hi":657},{"p":"d","c":21,"s":"GW","lo":496,"q1":513,"q3":544,"hi":558},{"p":"d","c":21,"s":"GW-RC","lo":431,"q1":454,"q3":475,"hi":492},
{"p":"d","c":22,"s":"BL","lo":605,"q1":617,"q3":652,"hi":666},{"p":"d","c":22,"s":"GW","lo":518,"q1":532,"q3":556,"hi":579},{"p":"d","c":22,"s":"GW-RC","lo":489,"q1":506,"q3":530,"hi":558},
{"p":"d","c":23,"s":"BL","lo":478,"q1":489,"q3":496,"hi":501},{"p":"d","c":23,"s":"GW","lo":412,"q1":417,"q3":426,"hi":433},{"p":"d","c":23,"s":"GW-RC","lo":403,"q1":409,"q3":430,"hi":447},
{"p":"d","c":24,"s":"BL","lo":572,"q1":579,"q3":619,"hi":645},{"p":"d","c":24,"s":"GW","lo":445,"q1":450,"q3":457,"hi":463},{"p":"d","c":24,"s":"GW-RC","lo":426,"q1":440,"q3":463,"hi":483},
{"p":"d","c":25,"s":"BL","lo":579,"q1":598,"q3":628,"hi":633},{"p":"d","c":25,"s":"GW","lo":414,"q1":426,"q3":445,"hi":457},{"p":"d","c":25,"s":"GW-RC","lo":353,"q1":367,"q3":388,"hi":397},
{"p":"d","c":26,"s":"BL","lo":576,"q1":593,"q3":645,"hi":657},{"p":"d","c":26,"s":"GW","lo":461,"q1":478,"q3":499,"hi":510},{"p":"d","c":26,"s":"GW-RC","lo":501,"q1":523,"q3":548,"hi":553},
{"p":"d","c":27,"s":"BL","lo":567,"q1":588,"q3":605,"hi":619},{"p":"d","c":27,"s":"GW","lo":501,"q1":510,"q3":534,"hi":544},{"p":"d","c":27,"s":"GW-RC","lo":470,"q1":475,"q3":490,"hi":496},
{"p":"d","c":28,"s":"BL","lo":570,"q1":600,"q3":670,"hi":701},{"p":"d","c":28,"s":"GW","lo":496,"q1":510,"q3":536,"hi":553},{"p":"d","c":28,"s":"GW-RC","lo":487,"q1":510,"q3":532,"hi":553},
{"p":"d","c":29,"s":"BL","lo":602,"q1":637,"q3":697,"hi":727},{"p":"d","c":29,"s":"GW","lo":475,"q1":483,"q3":506,"hi":518},{"p":"d","c":29,"s":"GW-RC","lo":496,"q1":501,"q3":511,"hi":515},
{"p":"d","c":30,"s":"BL","lo":696,"q1":715,"q3":823,"hi":843},{"p":"d","c":30,"s":"GW","lo":506,"q1":530,"q3":541,"hi":548},{"p":"d","c":30,"s":"GW-RC","lo":501,"q1":523,"q3":544,"hi":548},
{"p":"d","c":31,"s":"BL","lo":597,"q1":619,"q3":654,"hi":683},{"p":"d","c":31,"s":"GW","lo":383,"q1":388,"q3":395,"hi":400},{"p":"d","c":31,"s":"GW-RC","lo":501,"q1":523,"q3":537,"hi":541},
{"p":"d","c":32,"s":"BL","lo":470,"q1":475,"q3":506,"hi":544},{"p":"d","c":32,"s":"GW","lo":262,"q1":273,"q3":283,"hi":289},{"p":"d","c":32,"s":"GW-RC","lo":271,"q1":280,"q3":294,"hi":304},
{"p":"d","c":33,"s":"BL","lo":388,"q1":390,"q3":395,"hi":397},{"p":"d","c":33,"s":"GW","lo":193,"q1":195,"q3":200,"hi":202},{"p":"d","c":33,"s":"GW-RC","lo":230,"q1":235,"q3":243,"hi":247},
{"p":"d","c":34,"s":"BL","lo":452,"q1":457,"q3":473,"hi":492},{"p":"d","c":34,"s":"GW","lo":262,"q1":266,"q3":287,"hi":297},{"p":"d","c":34,"s":"GW-RC","lo":245,"q1":252,"q3":271,"hi":297},
{"p":"e","c":1,"s":"BL","lo":66,"q1":73,"q3":92,"hi":102},{"p":"e","c":1,"s":"GW","lo":98,"q1":111,"q3":128,"hi":135},{"p":"e","c":1,"s":"GW-RC","lo":135,"q1":150,"q3":170,"hi":183},
{"p":"e","c":2,"s":"BL","lo":60,"q1":61,"q3":67,"hi":70},{"p":"e","c":2,"s":"GW","lo":140,"q1":163,"q3":185,"hi":198},{"p":"e","c":2,"s":"GW-RC","lo":211,"q1":225,"q3":244,"hi":256},
{"p":"e","c":3,"s":"BL","lo":21,"q1":22,"q3":28,"hi":31},{"p":"e","c":3,"s":"GW","lo":63,"q1":66,"q3":74,"hi":78},{"p":"e","c":3,"s":"GW-RC","lo":166,"q1":172,"q3":185,"hi":192},
{"p":"e","c":4,"s":"BL","lo":43,"q1":47,"q3":60,"hi":66},{"p":"e","c":4,"s":"GW","lo":83,"q1":91,"q3":105,"hi":114},{"p":"e","c":4,"s":"GW-RC","lo":108,"q1":118,"q3":133,"hi":144},
{"p":"e","c":5,"s":"BL","lo":56,"q1":66,"q3":79,"hi":82},{"p":"e","c":5,"s":"GW","lo":133,"q1":172,"q3":202,"hi":211},{"p":"e","c":5,"s":"GW-RC","lo":163,"q1":196,"q3":244,"hi":251},
{"p":"e","c":6,"s":"BL","lo":47,"q1":56,"q3":69,"hi":76},{"p":"e","c":6,"s":"GW","lo":63,"q1":66,"q3":83,"hi":89},{"p":"e","c":6,"s":"GW-RC","lo":170,"q1":183,"q3":238,"hi":254},
{"p":"e","c":7,"s":"BL","lo":79,"q1":89,"q3":111,"hi":120},{"p":"e","c":7,"s":"GW","lo":299,"q1":308,"q3":360,"hi":409},{"p":"e","c":7,"s":"GW-RC","lo":267,"q1":273,"q3":325,"hi":355},
{"p":"e","c":8,"s":"BL","lo":47,"q1":53,"q3":70,"hi":83},{"p":"e","c":8,"s":"GW","lo":124,"q1":128,"q3":141,"hi":148},{"p":"e","c":8,"s":"GW-RC","lo":176,"q1":192,"q3":215,"hi":245},
{"p":"e","c":9,"s":"BL","lo":69,"q1":73,"q3":108,"hi":111},{"p":"e","c":9,"s":"GW","lo":79,"q1":83,"q3":102,"hi":105},{"p":"e","c":9,"s":"GW-RC","lo":166,"q1":170,"q3":202,"hi":206},
{"p":"e","c":10,"s":"BL","lo":92,"q1":96,"q3":120,"hi":157},{"p":"e","c":10,"s":"GW","lo":141,"q1":163,"q3":187,"hi":199},{"p":"e","c":10,"s":"GW-RC","lo":174,"q1":199,"q3":241,"hi":260},
{"p":"e","c":11,"s":"BL","lo":30,"q1":30,"q3":35,"hi":35},{"p":"e","c":11,"s":"GW","lo":111,"q1":118,"q3":141,"hi":150},{"p":"e","c":11,"s":"GW-RC","lo":96,"q1":105,"q3":131,"hi":144},
{"p":"e","c":12,"s":"BL","lo":118,"q1":120,"q3":144,"hi":153},{"p":"e","c":12,"s":"GW","lo":76,"q1":85,"q3":105,"hi":115},{"p":"e","c":12,"s":"GW-RC","lo":111,"q1":124,"q3":170,"hi":193},
{"p":"e","c":13,"s":"BL","lo":63,"q1":92,"q3":111,"hi":124},{"p":"e","c":13,"s":"GW","lo":56,"q1":60,"q3":73,"hi":82},{"p":"e","c":13,"s":"GW-RC","lo":221,"q1":234,"q3":254,"hi":267},
{"p":"e","c":14,"s":"BL","lo":111,"q1":128,"q3":176,"hi":183},{"p":"e","c":14,"s":"GW","lo":83,"q1":88,"q3":96,"hi":98},{"p":"e","c":14,"s":"GW-RC","lo":187,"q1":189,"q3":198,"hi":199},
{"p":"e","c":15,"s":"BL","lo":109,"q1":118,"q3":148,"hi":183},{"p":"e","c":15,"s":"GW","lo":79,"q1":92,"q3":124,"hi":137},{"p":"e","c":15,"s":"GW-RC","lo":131,"q1":133,"q3":189,"hi":267},
{"p":"e","c":16,"s":"BL","lo":146,"q1":174,"q3":193,"hi":202},{"p":"e","c":16,"s":"GW","lo":392,"q1":425,"q3":477,"hi":506},{"p":"e","c":16,"s":"GW-RC","lo":234,"q1":260,"q3":290,"hi":321},
{"p":"e","c":17,"s":"BL","lo":114,"q1":127,"q3":144,"hi":166},{"p":"e","c":17,"s":"GW","lo":368,"q1":381,"q3":442,"hi":461},{"p":"e","c":17,"s":"GW-RC","lo":244,"q1":258,"q3":308,"hi":332},
{"p":"e","c":18,"s":"BL","lo":154,"q1":159,"q3":183,"hi":209},{"p":"e","c":18,"s":"GW","lo":161,"q1":174,"q3":189,"hi":193},{"p":"e","c":18,"s":"GW-RC","lo":170,"q1":206,"q3":228,"hi":234},
{"p":"e","c":19,"s":"BL","lo":241,"q1":282,"q3":315,"hi":368},{"p":"e","c":19,"s":"GW","lo":345,"q1":373,"q3":433,"hi":438},{"p":"e","c":19,"s":"GW-RC","lo":231,"q1":256,"q3":312,"hi":338},
{"p":"e","c":20,"s":"BL","lo":102,"q1":131,"q3":154,"hi":163},{"p":"e","c":20,"s":"GW","lo":308,"q1":364,"q3":446,"hi":481},{"p":"e","c":20,"s":"GW-RC","lo":150,"q1":159,"q3":196,"hi":219},
{"p":"e","c":21,"s":"BL","lo":170,"q1":199,"q3":218,"hi":245},{"p":"e","c":21,"s":"GW","lo":329,"q1":377,"q3":435,"hi":444},{"p":"e","c":21,"s":"GW-RC","lo":299,"q1":338,"q3":403,"hi":435},
{"p":"e","c":22,"s":"BL","lo":122,"q1":141,"q3":167,"hi":199},{"p":"e","c":22,"s":"GW","lo":202,"q1":212,"q3":259,"hi":286},{"p":"e","c":22,"s":"GW-RC","lo":319,"q1":335,"q3":461,"hi":487},
{"p":"e","c":23,"s":"BL","lo":163,"q1":172,"q3":198,"hi":209},{"p":"e","c":23,"s":"GW","lo":176,"q1":179,"q3":209,"hi":228},{"p":"e","c":23,"s":"GW-RC","lo":154,"q1":166,"q3":202,"hi":218},
{"p":"e","c":24,"s":"BL","lo":150,"q1":157,"q3":183,"hi":199},{"p":"e","c":24,"s":"GW","lo":189,"q1":193,"q3":222,"hi":238},{"p":"e","c":24,"s":"GW-RC","lo":146,"q1":153,"q3":189,"hi":202},
{"p":"e","c":25,"s":"BL","lo":98,"q1":108,"q3":122,"hi":135},{"p":"e","c":25,"s":"GW","lo":299,"q1":329,"q3":364,"hi":392},{"p":"e","c":25,"s":"GW-RC","lo":250,"q1":277,"q3":323,"hi":332},
{"p":"e","c":26,"s":"BL","lo":119,"q1":122,"q3":132,"hi":135},{"p":"e","c":26,"s":"GW","lo":234,"q1":251,"q3":293,"hi":325},{"p":"e","c":26,"s":"GW-RC","lo":176,"q1":192,"q3":225,"hi":247},
{"p":"e","c":27,"s":"BL","lo":79,"q1":101,"q3":114,"hi":118},{"p":"e","c":27,"s":"GW","lo":131,"q1":135,"q3":161,"hi":192},{"p":"e","c":27,"s":"GW-RC","lo":170,"q1":176,"q3":211,"hi":241},
{"p":"e","c":28,"s":"BL","lo":127,"q1":140,"q3":148,"hi":150},{"p":"e","c":28,"s":"GW","lo":198,"q1":209,"q3":232,"hi":247},{"p":"e","c":28,"s":"GW-RC","lo":254,"q1":269,"q3":303,"hi":328},
{"p":"e","c":29,"s":"BL","lo":69,"q1":76,"q3":109,"hi":114},{"p":"e","c":29,"s":"GW","lo":198,"q1":215,"q3":267,"hi":299},{"p":"e","c":29,"s":"GW-RC","lo":206,"q1":225,"q3":323,"hi":348},
{"p":"e","c":30,"s":"BL","lo":115,"q1":128,"q3":163,"hi":205},{"p":"e","c":30,"s":"GW","lo":189,"q1":193,"q3":286,"hi":293},{"p":"e","c":30,"s":"GW-RC","lo":231,"q1":256,"q3":335,"hi":451},
{"p":"e","c":31,"s":"BL","lo":163,"q1":183,"q3":222,"hi":251},{"p":"e","c":31,"s":"GW","lo":399,"q1":448,"q3":535,"hi":597},{"p":"e","c":31,"s":"GW-RC","lo":334,"q1":351,"q3":455,"hi":543},
{"p":"e","c":32,"s":"BL","lo":111,"q1":128,"q3":146,"hi":161},{"p":"e","c":32,"s":"GW","lo":345,"q1":367,"q3":455,"hi":470},{"p":"e","c":32,"s":"GW-RC","lo":302,"q1":329,"q3":399,"hi":444},
{"p":"e","c":33,"s":"BL","lo":101,"q1":105,"q3":113,"hi":118},{"p":"e","c":33,"s":"GW","lo":280,"q1":286,"q3":335,"hi":345},{"p":"e","c":33,"s":"GW-RC","lo":193,"q1":198,"q3":228,"hi":232},
{"p":"e","c":34,"s":"BL","lo":111,"q1":122,"q3":150,"hi":166},{"p":"e","c":34,"s":"GW","lo":260,"q1":299,"q3":347,"hi":383},{"p":"e","c":34,"s":"GW-RC","lo":163,"q1":172,"q3":189,"hi":215},
{"p":"f","c":1,"s":"BL","lo":1046,"q1":1078,"q3":1322,"hi":1328},{"p":"f","c":1,"s":"GW","lo":1046,"q1":1078,"q3":1322,"hi":1328},{"p":"f","c":1,"s":"GW-RC","lo":1046,"q1":1078,"q3":1322,"hi":1328},
{"p":"f","c":2,"s":"BL","lo":1002,"q1":1104,"q3":1335,"hi":1339},{"p":"f","c":2,"s":"GW","lo":1002,"q1":1104,"q3":1335,"hi":1339},{"p":"f","c":2,"s":"GW-RC","lo":1002,"q1":1104,"q3":1335,"hi":1339},
{"p":"f","c":3,"s":"BL","lo":1017,"q1":1111,"q3":1346,"hi":1372},{"p":"f","c":3,"s":"GW","lo":1017,"q1":1111,"q3":1346,"hi":1372},{"p":"f","c":3,"s":"GW-RC","lo":1017,"q1":1111,"q3":1346,"hi":1372},
{"p":"f","c":4,"s":"BL","lo":1083,"q1":1226,"q3":1361,"hi":1459},{"p":"f","c":4,"s":"GW","lo":1083,"q1":1226,"q3":1361,"hi":1459},{"p":"f","c":4,"s":"GW-RC","lo":1083,"q1":1226,"q3":1361,"hi":1459},
{"p":"f","c":5,"s":"BL","lo":1078,"q1":1139,"q3":1252,"hi":1324},{"p":"f","c":5,"s":"GW","lo":1078,"q1":1139,"q3":1252,"hi":1324},{"p":"f","c":5,"s":"GW-RC","lo":1078,"q1":1139,"q3":1252,"hi":1324},
{"p":"f","c":6,"s":"BL","lo":1109,"q1":1122,"q3":1246,"hi":1317},{"p":"f","c":6,"s":"GW","lo":1109,"q1":1122,"q3":1246,"hi":1317},{"p":"f","c":6,"s":"GW-RC","lo":1109,"q1":1122,"q3":1246,"hi":1317},
{"p":"f","c":7,"s":"BL","lo":1109,"q1":1220,"q3":1300,"hi":1409},{"p":"f","c":7,"s":"GW","lo":1109,"q1":1220,"q3":1300,"hi":1409},{"p":"f","c":7,"s":"GW-RC","lo":1109,"q1":1220,"q3":1300,"hi":1409},
{"p":"f","c":8,"s":"BL","lo":1096,"q1":1204,"q3":1285,"hi":1389},{"p":"f","c":8,"s":"GW","lo":1096,"q1":1204,"q3":1285,"hi":1389},{"p":"f","c":8,"s":"GW-RC","lo":1096,"q1":1204,"q3":1285,"hi":1389},
{"p":"f","c":9,"s":"BL","lo":1148,"q1":1217,"q3":1361,"hi":1480},{"p":"f","c":9,"s":"GW","lo":1148,"q1":1217,"q3":1361,"hi":1480},{"p":"f","c":9,"s":"GW-RC","lo":1148,"q1":1217,"q3":1361,"hi":1480},
{"p":"f","c":10,"s":"BL","lo":1210,"q1":1354,"q3":1480,"hi":1626},{"p":"f","c":10,"s":"GW","lo":1210,"q1":1354,"q3":1480,"hi":1626},{"p":"f","c":10,"s":"GW-RC","lo":1210,"q1":1354,"q3":1480,"hi":1626},
{"p":"f","c":11,"s":"BL","lo":1239,"q1":1372,"q3":1480,"hi":1596},{"p":"f","c":11,"s":"GW","lo":1239,"q1":1372,"q3":1480,"hi":1596},{"p":"f","c":11,"s":"GW-RC","lo":1239,"q1":1372,"q3":1480,"hi":1596},
{"p":"f","c":12,"s":"BL","lo":1204,"q1":1333,"q3":1457,"hi":1589},{"p":"f","c":12,"s":"GW","lo":1204,"q1":1333,"q3":1457,"hi":1589},{"p":"f","c":12,"s":"GW-RC","lo":1204,"q1":1333,"q3":1457,"hi":1589},
{"p":"f","c":13,"s":"BL","lo":1339,"q1":1357,"q3":1422,"hi":1524},{"p":"f","c":13,"s":"GW","lo":1339,"q1":1357,"q3":1422,"hi":1524},{"p":"f","c":13,"s":"GW-RC","lo":1339,"q1":1357,"q3":1422,"hi":1524},
{"p":"f","c":14,"s":"BL","lo":1339,"q1":1343,"q3":1420,"hi":1524},{"p":"f","c":14,"s":"GW","lo":1339,"q1":1343,"q3":1420,"hi":1524},{"p":"f","c":14,"s":"GW-RC","lo":1339,"q1":1343,"q3":1420,"hi":1524},
{"p":"f","c":15,"s":"BL","lo":1154,"q1":1248,"q3":1372,"hi":1502},{"p":"f","c":15,"s":"GW","lo":1154,"q1":1248,"q3":1372,"hi":1502},{"p":"f","c":15,"s":"GW-RC","lo":1154,"q1":1248,"q3":1372,"hi":1502},
{"p":"f","c":16,"s":"BL","lo":1133,"q1":1170,"q3":1267,"hi":1335},{"p":"f","c":16,"s":"GW","lo":1133,"q1":1170,"q3":1267,"hi":1335},{"p":"f","c":16,"s":"GW-RC","lo":1133,"q1":1170,"q3":1267,"hi":1335},
{"p":"f","c":17,"s":"BL","lo":1048,"q1":1093,"q3":1152,"hi":1170},{"p":"f","c":17,"s":"GW","lo":1048,"q1":1093,"q3":1152,"hi":1170},{"p":"f","c":17,"s":"GW-RC","lo":1048,"q1":1093,"q3":1152,"hi":1170},
{"p":"f","c":18,"s":"BL","lo":872,"q1":911,"q3":1072,"hi":1154},{"p":"f","c":18,"s":"GW","lo":872,"q1":911,"q3":1072,"hi":1154},{"p":"f","c":18,"s":"GW-RC","lo":872,"q1":911,"q3":1072,"hi":1154},
{"p":"f","c":19,"s":"BL","lo":1083,"q1":1133,"q3":1202,"hi":1241},{"p":"f","c":19,"s":"GW","lo":1083,"q1":1133,"q3":1202,"hi":1241},{"p":"f","c":19,"s":"GW-RC","lo":1083,"q1":1133,"q3":1202,"hi":1307},
{"p":"f","c":20,"s":"BL","lo":941,"q1":1017,"q3":1198,"hi":1259},{"p":"f","c":20,"s":"GW","lo":941,"q1":1017,"q3":1198,"hi":1259},{"p":"f","c":20,"s":"GW-RC","lo":941,"q1":1017,"q3":1198,"hi":1259},
{"p":"f","c":21,"s":"BL","lo":1028,"q1":1085,"q3":1150,"hi":1235},{"p":"f","c":21,"s":"GW","lo":1028,"q1":1085,"q3":1150,"hi":1235},{"p":"f","c":21,"s":"GW-RC","lo":1028,"q1":1085,"q3":1150,"hi":1235},
{"p":"f","c":22,"s":"BL","lo":1176,"q1":1302,"q3":1422,"hi":1578},{"p":"f","c":22,"s":"GW","lo":1176,"q1":1302,"q3":1422,"hi":1578},{"p":"f","c":22,"s":"GW-RC","lo":1176,"q1":1302,"q3":1422,"hi":1578},
{"p":"f","c":23,"s":"BL","lo":1285,"q1":1437,"q3":1665,"hi":1750},{"p":"f","c":23,"s":"GW","lo":1285,"q1":1437,"q3":1665,"hi":1750},{"p":"f","c":23,"s":"GW-RC","lo":1285,"q1":1437,"q3":1665,"hi":1750},
{"p":"f","c":24,"s":"BL","lo":1289,"q1":1437,"q3":1643,"hi":1750},{"p":"f","c":24,"s":"GW","lo":1289,"q1":1437,"q3":1643,"hi":1750},{"p":"f","c":24,"s":"GW-RC","lo":1289,"q1":1437,"q3":1643,"hi":1750},
{"p":"f","c":25,"s":"BL","lo":1111,"q1":1176,"q3":1317,"hi":1343},{"p":"f","c":25,"s":"GW","lo":1111,"q1":1176,"q3":1317,"hi":1343},{"p":"f","c":25,"s":"GW-RC","lo":1111,"q1":1176,"q3":1317,"hi":1343},
{"p":"f","c":26,"s":"BL","lo":1061,"q1":1128,"q3":1259,"hi":1335},{"p":"f","c":26,"s":"GW","lo":1061,"q1":1128,"q3":1259,"hi":1335},{"p":"f","c":26,"s":"GW-RC","lo":1061,"q1":1128,"q3":1259,"hi":1335},
{"p":"f","c":27,"s":"BL","lo":1057,"q1":1143,"q3":1307,"hi":1335},{"p":"f","c":27,"s":"GW","lo":1057,"q1":1143,"q3":1307,"hi":1335},{"p":"f","c":27,"s":"GW-RC","lo":1057,"q1":1143,"q3":1307,"hi":1335},
{"p":"f","c":28,"s":"BL","lo":1041,"q1":1115,"q3":1209,"hi":1354},{"p":"f","c":28,"s":"GW","lo":1041,"q1":1115,"q3":1209,"hi":1354},{"p":"f","c":28,"s":"GW-RC","lo":1041,"q1":1115,"q3":1209,"hi":1354},
{"p":"f","c":29,"s":"BL","lo":900,"q1":1104,"q3":1270,"hi":1365},{"p":"f","c":29,"s":"GW","lo":900,"q1":1104,"q3":1270,"hi":1365},{"p":"f","c":29,"s":"GW-RC","lo":900,"q1":1104,"q3":1270,"hi":1365},
{"p":"f","c":30,"s":"BL","lo":1170,"q1":1187,"q3":1278,"hi":1376},{"p":"f","c":30,"s":"GW","lo":1170,"q1":1187,"q3":1278,"hi":1376},{"p":"f","c":30,"s":"GW-RC","lo":1170,"q1":1187,"q3":1278,"hi":1376},
{"p":"f","c":31,"s":"BL","lo":1270,"q1":1283,"q3":1346,"hi":1443},{"p":"f","c":31,"s":"GW","lo":1270,"q1":1283,"q3":1346,"hi":1443},{"p":"f","c":31,"s":"GW-RC","lo":1270,"q1":1283,"q3":1346,"hi":1443},
{"p":"f","c":32,"s":"BL","lo":1267,"q1":1350,"q3":1476,"hi":1611},{"p":"f","c":32,"s":"GW","lo":1267,"q1":1350,"q3":1476,"hi":1611},{"p":"f","c":32,"s":"GW-RC","lo":1267,"q1":1350,"q3":1476,"hi":1611},
{"p":"f","c":33,"s":"BL","lo":909,"q1":909,"q3":1246,"hi":1263},{"p":"f","c":33,"s":"GW","lo":909,"q1":909,"q3":1246,"hi":1263},{"p":"f","c":33,"s":"GW-RC","lo":909,"q1":909,"q3":1246,"hi":1263},
{"p":"f","c":34,"s":"BL","lo":991,"q1":1148,"q3":1259,"hi":1361},{"p":"f","c":34,"s":"GW","lo":991,"q1":1148,"q3":1259,"hi":1361},{"p":"f","c":34,"s":"GW-RC","lo":991,"q1":1148,"q3":1259,"hi":1361}
]},
"vconcat":[
{"width":1180,"height":154,"transform":[{"filter":"datum.p=='a'"}],
"title":{"text":"a)","anchor":"start","frame":"group","offset":-18,"dx":4},
"encoding":{"xOffset":{"field":"s","type":"nominal","sort":["BL","GW","GW-RC"],"scale":{"paddingInner":0,"paddingOuter":0}},
"color":{"field":"s","type":"nominal","sort":["BL","GW","GW-RC"],"scale":{"domain":["BL","GW","GW-RC"],"range":["#2032d8","#76a12d","#b3292d"]},
"legend":{"orient":"none","legendX":855,"legendY":-19,"direction":"horizontal","title":null,"symbolType":"square","symbolSize":90,"symbolStrokeWidth":0,"labelFontSize":16,"labelColor":"#1a1a1a","columnPadding":8,"labelOffset":3,"labelExpr":"'Setup ' + datum.label"}}},
"layer":[
{"mark":{"type":"bar","clip":true},"encoding":{"x":{"field":"c","type":"ordinal","scale":{"paddingInner":0.357,"paddingOuter":0.05},"axis":{"orient":"top","title":"Surface Runoff","titleFontSize":18,"titlePadding":2,"labels":false,"tickSize":-10,"grid":false,"bandPosition":0.5}},"y":{"field":"q1","type":"quantitative","scale":{"domain":[0,600],"nice":false,"zero":false},"axis":{"orient":"right","title":null,"labels":false,"values":[0,200,400,600],"tickSize":-9,"grid":false}},"y2":{"field":"q3"}}},
{"mark":{"type":"rule","clip":true,"strokeWidth":1.2},"encoding":{"x":{"field":"c","type":"ordinal","scale":{"paddingInner":0.357,"paddingOuter":0.05},"axis":{"orient":"bottom","title":null,"labelAngle":0,"labelPadding":16,"tickSize":-10,"grid":true,"bandPosition":0.5}},"y":{"field":"lo","type":"quantitative","axis":{"orient":"left","title":"mm yr⁻¹","titleFontSize":16,"titlePadding":6,"values":[0,200,400,600],"labelPadding":13,"tickSize":-9,"grid":true}},"y2":{"field":"hi"}}}
],
"resolve":{"axis":{"x":"independent","y":"independent"}}},
{"width":1180,"height":154,"transform":[{"filter":"datum.p=='b'"}],
"title":{"text":"b)","anchor":"start","frame":"group","offset":-18,"dx":4},
"encoding":{"xOffset":{"field":"s","type":"nominal","sort":["BL","GW","GW-RC"],"scale":{"paddingInner":0,"paddingOuter":0}},
"color":{"field":"s","type":"nominal","sort":["BL","GW","GW-RC"],"scale":{"domain":["BL","GW","GW-RC"],"range":["#2032d8","#76a12d","#b3292d"]},"legend":null}},
"layer":[
{"mark":{"type":"bar","clip":true},"encoding":{"x":{"field":"c","type":"ordinal","scale":{"paddingInner":0.357,"paddingOuter":0.05},"axis":{"orient":"top","title":"Baseflow","titleFontSize":18,"titlePadding":2,"labels":false,"tickSize":-10,"grid":false,"bandPosition":0.5}},"y":{"field":"q1","type":"quantitative","scale":{"domain":[0,500],"nice":false,"zero":false},"axis":{"orient":"right","title":null,"labels":false,"values":[0,100,200,300,400,500],"tickSize":-9,"grid":false}},"y2":{"field":"q3"}}},
{"mark":{"type":"rule","clip":true,"strokeWidth":1.2},"encoding":{"x":{"field":"c","type":"ordinal","scale":{"paddingInner":0.357,"paddingOuter":0.05},"axis":{"orient":"bottom","title":null,"labelAngle":0,"labelPadding":16,"tickSize":-10,"grid":true,"bandPosition":0.5}},"y":{"field":"lo","type":"quantitative","axis":{"orient":"left","title":"mm yr⁻¹","titleFontSize":16,"titlePadding":6,"values":[0,100,200,300,400,500],"labelPadding":13,"tickSize":-9,"grid":true}},"y2":{"field":"hi"}}}
],
"resolve":{"axis":{"x":"independent","y":"independent"}}},
{"width":1180,"height":154,"transform":[{"filter":"datum.p=='c'"}],
"title":{"text":"c)","anchor":"start","frame":"group","offset":-18,"dx":4},
"encoding":{"xOffset":{"field":"s","type":"nominal","sort":["BL","GW","GW-RC"],"scale":{"paddingInner":0,"paddingOuter":0}},
"color":{"field":"s","type":"nominal","sort":["BL","GW","GW-RC"],"scale":{"domain":["BL","GW","GW-RC"],"range":["#2032d8","#76a12d","#b3292d"]},"legend":null}},
"layer":[
{"mark":{"type":"bar","clip":true},"encoding":{"x":{"field":"c","type":"ordinal","scale":{"paddingInner":0.357,"paddingOuter":0.05},"axis":{"orient":"top","title":"Interflow","titleFontSize":18,"titlePadding":2,"labels":false,"tickSize":-10,"grid":false,"bandPosition":0.5}},"y":{"field":"q1","type":"quantitative","scale":{"domain":[0,1000],"nice":false,"zero":false},"axis":{"orient":"right","title":null,"labels":false,"values":[0,500,1000],"tickSize":-9,"grid":false}},"y2":{"field":"q3"}}},
{"mark":{"type":"rule","clip":true,"strokeWidth":1.2},"encoding":{"x":{"field":"c","type":"ordinal","scale":{"paddingInner":0.357,"paddingOuter":0.05},"axis":{"orient":"bottom","title":null,"labelAngle":0,"labelPadding":16,"tickSize":-10,"grid":true,"bandPosition":0.5}},"y":{"field":"lo","type":"quantitative","axis":{"orient":"left","title":"mm yr⁻¹","titleFontSize":16,"titlePadding":6,"values":[0,500,1000],"labelPadding":13,"tickSize":-9,"grid":true}},"y2":{"field":"hi"}}}
],
"resolve":{"axis":{"x":"independent","y":"independent"}}},
{"width":1180,"height":154,"transform":[{"filter":"datum.p=='d'"}],
"title":{"text":"d)","anchor":"start","frame":"group","offset":-18,"dx":4},
"encoding":{"xOffset":{"field":"s","type":"nominal","sort":["BL","GW","GW-RC"],"scale":{"paddingInner":0,"paddingOuter":0}},
"color":{"field":"s","type":"nominal","sort":["BL","GW","GW-RC"],"scale":{"domain":["BL","GW","GW-RC"],"range":["#2032d8","#76a12d","#b3292d"]},"legend":null}},
"layer":[
{"mark":{"type":"bar","clip":true},"encoding":{"x":{"field":"c","type":"ordinal","scale":{"paddingInner":0.357,"paddingOuter":0.05},"axis":{"orient":"top","title":"ETa","titleFontSize":18,"titlePadding":2,"labels":false,"tickSize":-10,"grid":false,"bandPosition":0.5}},"y":{"field":"q1","type":"quantitative","scale":{"domain":[100,900],"nice":false,"zero":false},"axis":{"orient":"right","title":null,"labels":false,"values":[200,400,600,800],"tickSize":-9,"grid":false}},"y2":{"field":"q3"}}},
{"mark":{"type":"rule","clip":true,"strokeWidth":1.2},"encoding":{"x":{"field":"c","type":"ordinal","scale":{"paddingInner":0.357,"paddingOuter":0.05},"axis":{"orient":"bottom","title":null,"labelAngle":0,"labelPadding":16,"tickSize":-10,"grid":true,"bandPosition":0.5}},"y":{"field":"lo","type":"quantitative","axis":{"orient":"left","title":"mm yr⁻¹","titleFontSize":16,"titlePadding":6,"values":[200,400,600,800],"labelPadding":13,"tickSize":-9,"grid":true}},"y2":{"field":"hi"}}}
],
"resolve":{"axis":{"x":"independent","y":"independent"}}},
{"width":1180,"height":154,"transform":[{"filter":"datum.p=='e'"}],
"title":{"text":"e)","anchor":"start","frame":"group","offset":-18,"dx":4},
"encoding":{"xOffset":{"field":"s","type":"nominal","sort":["BL","GW","GW-RC"],"scale":{"paddingInner":0,"paddingOuter":0}},
"color":{"field":"s","type":"nominal","sort":["BL","GW","GW-RC"],"scale":{"domain":["BL","GW","GW-RC"],"range":["#2032d8","#76a12d","#b3292d"]},"legend":null}},
"layer":[
{"mark":{"type":"bar","clip":true},"encoding":{"x":{"field":"c","type":"ordinal","scale":{"paddingInner":0.357,"paddingOuter":0.05},"axis":{"orient":"top","title":"Groundwater Recharge","titleFontSize":18,"titlePadding":2,"labels":false,"tickSize":-10,"grid":false,"bandPosition":0.5}},"y":{"field":"q1","type":"quantitative","scale":{"domain":[0,600],"nice":false,"zero":false},"axis":{"orient":"right","title":null,"labels":false,"values":[0,200,400,600],"tickSize":-9,"grid":false}},"y2":{"field":"q3"}}},
{"mark":{"type":"rule","clip":true,"strokeWidth":1.2},"encoding":{"x":{"field":"c","type":"ordinal","scale":{"paddingInner":0.357,"paddingOuter":0.05},"axis":{"orient":"bottom","title":null,"labelAngle":0,"labelPadding":16,"tickSize":-10,"grid":true,"bandPosition":0.5}},"y":{"field":"lo","type":"quantitative","axis":{"orient":"left","title":"mm yr⁻¹","titleFontSize":16,"titlePadding":6,"values":[0,200,400,600],"labelPadding":13,"tickSize":-9,"grid":true}},"y2":{"field":"hi"}}}
],
"resolve":{"axis":{"x":"independent","y":"independent"}}},
{"width":1180,"height":154,"transform":[{"filter":"datum.p=='f'"}],
"title":{"text":"f)","anchor":"start","frame":"group","offset":-18,"dx":4},
"encoding":{"xOffset":{"field":"s","type":"nominal","sort":["BL","GW","GW-RC"],"scale":{"paddingInner":0,"paddingOuter":0}},
"color":{"field":"s","type":"nominal","sort":["BL","GW","GW-RC"],"scale":{"domain":["BL","GW","GW-RC"],"range":["#2032d8","#76a12d","#b3292d"]},"legend":null}},
"layer":[
{"mark":{"type":"bar","clip":true},"encoding":{"x":{"field":"c","type":"ordinal","scale":{"paddingInner":0.357,"paddingOuter":0.05},"axis":{"orient":"top","title":"Precipitation","titleFontSize":18,"titlePadding":2,"labels":false,"tickSize":-10,"grid":false,"bandPosition":0.5}},"y":{"field":"q1","type":"quantitative","scale":{"domain":[700,1700],"nice":false,"zero":false},"axis":{"orient":"right","title":null,"labels":false,"values":[800,1000,1200,1400,1600],"tickSize":-9,"grid":false}},"y2":{"field":"q3"}}},
{"mark":{"type":"rule","clip":true,"strokeWidth":1.2},"encoding":{"x":{"field":"c","type":"ordinal","scale":{"paddingInner":0.357,"paddingOuter":0.05},"axis":{"orient":"bottom","title":null,"labelAngle":0,"labelPadding":16,"tickSize":-10,"grid":true,"bandPosition":0.5}},"y":{"field":"lo","type":"quantitative","axis":{"orient":"left","title":"mm yr⁻¹","titleFontSize":16,"titlePadding":6,"values":[800,1000,1200,1400,1600],"labelPadding":13,"tickSize":-9,"grid":true}},"y2":{"field":"hi"}}}
],
"resolve":{"axis":{"x":"independent","y":"independent"}}}
]
}
